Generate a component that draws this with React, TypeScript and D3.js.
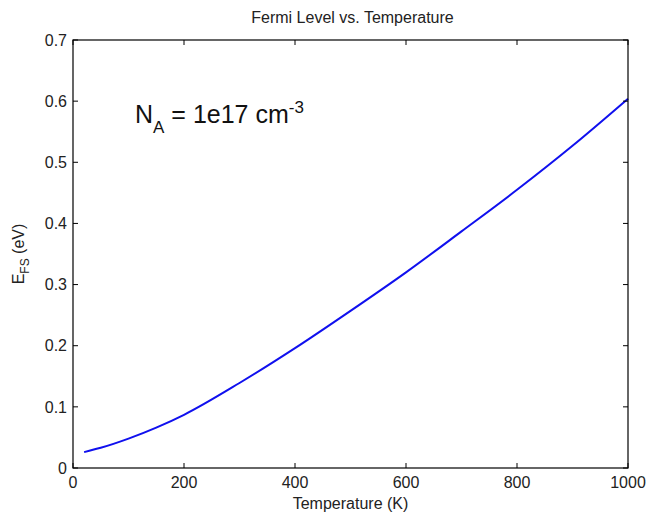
import React from "react";
import * as d3 from "d3";

const temps = [20, 50, 100, 150, 200, 300, 400, 500, 600, 700, 800, 900, 1000];
const efs = [0.026, 0.033, 0.048, 0.066, 0.087, 0.139, 0.196, 0.257, 0.32, 0.387, 0.455, 0.527, 0.604];
const xTicks = [0, 200, 400, 600, 800, 1000];
const yTicks = [0, 0.1, 0.2, 0.3, 0.4, 0.5, 0.6, 0.7];

const W = 650, H = 518;
const L = 73, R = 628, T = 40, B = 468;
const font = "Liberation Sans, Arial, sans-serif";
const txt = "#222";

export default function App() {
  const x = d3.scaleLinear().domain([0, 1000]).range([L, R]);
  const y = d3.scaleLinear().domain([0, 0.7]).range([B, T]);
  const line = d3
    .line<number>()
    .x((_, i) => x(temps[i]))
    .y((d) => y(d))
    .curve(d3.curveMonotoneX);
  const tl = 5;
  return (
    <svg width={W} height={H} style={{ position: "absolute", left: 0, top: 0, background: "#fff" }} fontFamily={font}>
      <rect x={0} y={0} width={W} height={H} fill="#fff" />
      <text x={(L + R) / 2 + 2} y={23} textAnchor="middle" fontSize={16} fill={txt}>
        Fermi Level vs. Temperature
      </text>
      <path d={line(efs) || ""} fill="none" stroke="#1010ee" strokeWidth={2} />
      <rect x={L} y={T} width={R - L} height={B - T} fill="none" stroke="#000" strokeWidth={1.2} />
      {xTicks.map((t) => (
        <g key={"x" + t}>
          <line x1={x(t)} x2={x(t)} y1={B} y2={B - tl} stroke="#000" />
          <line x1={x(t)} x2={x(t)} y1={T} y2={T + tl} stroke="#000" />
          <text x={x(t)} y={488} textAnchor="middle" fontSize={16} fill={txt}>
            {t}
          </text>
        </g>
      ))}
      {yTicks.map((t) => (
        <g key={"y" + t}>
          <line x1={L} x2={L + tl} y1={y(t)} y2={y(t)} stroke="#000" />
          <line x1={R} x2={R - tl} y1={y(t)} y2={y(t)} stroke="#000" />
          <text x={L - 6} y={y(t)} dy="0.36em" textAnchor="end" fontSize={16} fill={txt}>
            {t === 0 ? "0" : t.toFixed(1)}
          </text>
        </g>
      ))}
      <text x={(L + R) / 2} y={509} textAnchor="middle" fontSize={16} fill={txt}>
        Temperature (K)
      </text>
      <text transform={`translate(24, ${(T + B) / 2}) rotate(-90)`} textAnchor="middle" fontSize={16} fill={txt}>
        E<tspan fontSize={12} dy={5}>FS</tspan>
        <tspan dy={-5}> (eV)</tspan>
      </text>
      <text x={135} y={123} fontSize={25} fill="#111">
        N<tspan fontSize={17} dy={10}>A</tspan>
        <tspan dy={-10}> = 1e17 cm</tspan>
        <tspan fontSize={17} dy={-10}>-3</tspan>
      </text>
    </svg>
  );
}
